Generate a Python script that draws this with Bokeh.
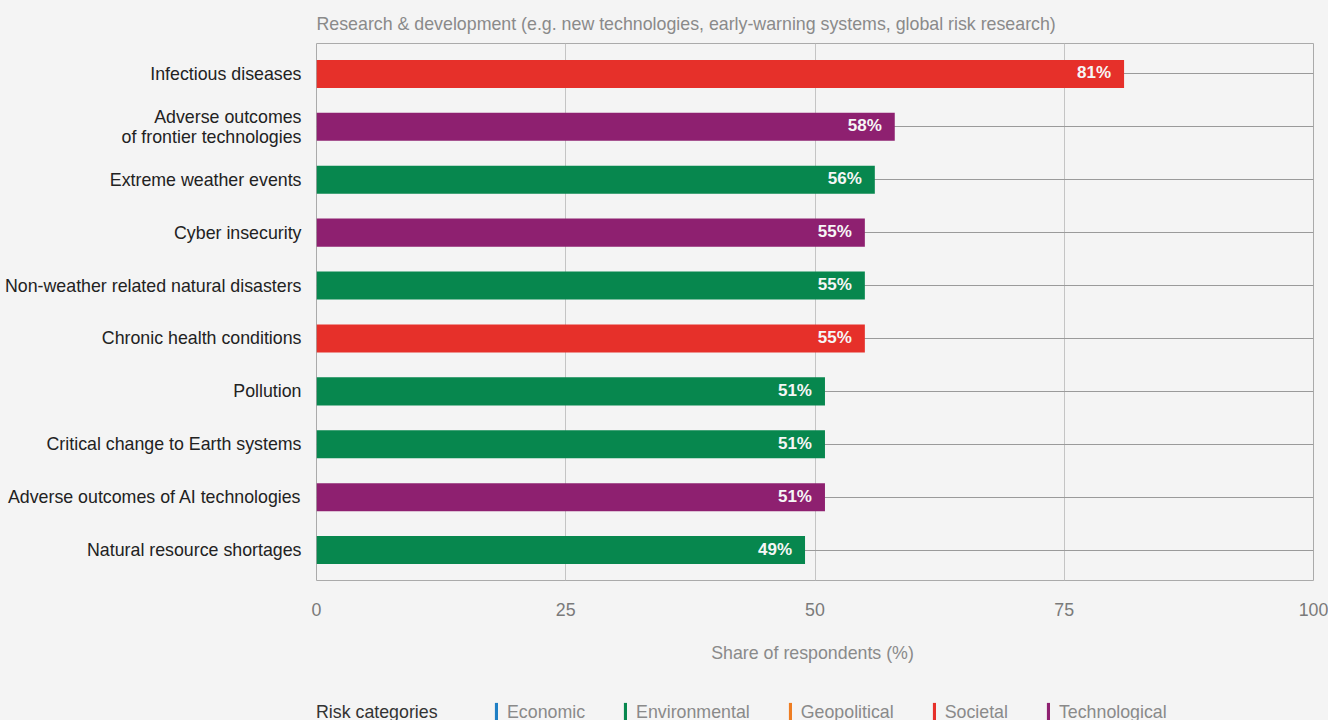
from bokeh.plotting import figure
from bokeh.models import (ColumnDataSource, FactorRange, Range1d, Legend, LegendItem, FixedTicker)
from bokeh.transform import factor_cmap
from bokeh.layouts import column
from bokeh.core.properties import value
from bokeh.embed import file_html
from bokeh.resources import INLINE

risks = [
    "Infectious diseases",
    "Adverse outcomes\nof frontier technologies",
    "Extreme weather events",
    "Cyber insecurity",
    "Non-weather related natural disasters",
    "Chronic health conditions",
    "Pollution",
    "Critical change to Earth systems",
    "Adverse outcomes of AI technologies",
    "Natural resource shortages",
]
shares = [81, 58, 56, 55, 55, 55, 51, 51, 51, 49]
groups = ["Societal", "Technological", "Environmental", "Technological", "Environmental",
          "Societal", "Environmental", "Environmental", "Technological", "Environmental"]

categories = ["Economic", "Environmental", "Geopolitical", "Societal", "Technological"]
cat_colors = ["#1f7fc4", "#07874e", "#ee7d22", "#e6302a", "#8e2070"]
x_ticks = [0, 25, 50, 75, 100]

FONT = "Liberation Sans"
FS = "17.8px"
BG = "#f4f4f4"

p = figure(
    width=1328, height=690,
    y_range=FactorRange(factors=list(reversed(risks)), range_padding=0.015),
    x_range=Range1d(0, 100),
    output_backend="svg", toolbar_location=None,
    min_border_left=316, min_border_right=15, min_border_top=43, min_border_bottom=110,
    background_fill_color=BG, border_fill_color=BG,
    outline_line_color="#aaaaaa", outline_line_width=1,
)

p.title.text = "Research & development (e.g. new technologies, early-warning systems, global risk research)"
p.title.align = "left"
p.title.text_color = "#8a8a8a"
p.title.text_font = FONT
p.title.text_font_size = FS
p.title.text_font_style = "normal"
p.title.standoff = 20

p.xgrid.ticker = FixedTicker(ticks=x_ticks)
p.xgrid.grid_line_color = "#c4c4c4"
p.ygrid.grid_line_color = "#9a9a9a"

p.xaxis.ticker = FixedTicker(ticks=x_ticks)
p.xaxis.axis_line_color = None
p.xaxis.major_tick_line_color = None
p.xaxis.major_tick_out = 0
p.xaxis.minor_tick_line_color = None
p.xaxis.major_label_text_color = "#7a7a7a"
p.xaxis.major_label_text_font = FONT
p.xaxis.major_label_text_font_size = FS
p.xaxis.major_label_standoff = 22
p.xaxis.axis_label = "Share of respondents  (%)"
p.xaxis.axis_label_text_color = "#8a8a8a"
p.xaxis.axis_label_text_font = FONT
p.xaxis.axis_label_text_font_size = FS
p.xaxis.axis_label_text_font_style = "normal"
p.xaxis.axis_label_standoff = 24

p.yaxis.axis_line_color = None
p.yaxis.major_tick_line_color = None
p.yaxis.major_tick_out = 0
p.yaxis.major_label_text_color = "#222222"
p.yaxis.major_label_text_font = FONT
p.yaxis.major_label_text_font_size = FS
p.yaxis.major_label_text_line_height = 1.0
p.yaxis.major_label_standoff = 15

src = ColumnDataSource(dict(
    y=risks, right=shares, group=groups, t=[f"{v}%" for v in shares],
))

p.hbar(y="y", right="right", left=0, height=0.53, source=src,
       fill_color=factor_cmap("group", palette=cat_colors, factors=categories), line_color=None)

p.text(x="right", y="y", text="t", source=src, text_align="right", text_baseline="middle",
       x_offset=-13, y_offset=-1, text_color="#f6f6f6", text_font=value(FONT), text_font_size="17px",
       text_font_style="bold")

# ---- legend strip below the chart ----
leg = figure(
    width=1328, height=30, x_range=Range1d(0, 1), y_range=Range1d(0, 1),
    output_backend="svg", toolbar_location=None,
    x_axis_location=None, y_axis_location=None,
    min_border_left=316, min_border_right=15, min_border_top=0, min_border_bottom=0,
    background_fill_color=BG, border_fill_color=BG, outline_line_color=None,
)
leg.xgrid.visible = False
leg.ygrid.visible = False

leg_src = ColumnDataSource(dict(category=categories, color=cat_colors))
# zero-size proxy glyph: only used to draw the legend swatches
proxy = leg.vbar(x=0, top=0, bottom=0, width=0, source=leg_src,
                 fill_color="color", line_color=None)

head = Legend(items=[LegendItem(label="Risk categories", renderers=[proxy], index=0)],
              orientation="horizontal", location=(0, -4),
              glyph_width=0, glyph_height=24, label_height=24, label_standoff=0,
              padding=0, margin=0, background_fill_alpha=0, border_line_color=None,
              label_text_color="#333333", label_text_font=FONT, label_text_font_size=FS)
leg.add_layout(head, "center")

cat_legend = Legend(
    items=[LegendItem(label=c, renderers=[proxy], index=i) for i, c in enumerate(categories)],
    orientation="horizontal", location=(178, -4),
    glyph_width=4, glyph_height=24, label_height=24, label_standoff=9,
    spacing=38, padding=0, margin=0,
    background_fill_alpha=0, border_line_color=None,
    label_text_color="#8a8a8a", label_text_font=FONT, label_text_font_size=FS)
leg.add_layout(cat_legend, "center")

layout = column(p, leg, spacing=0)

html = file_html(layout, INLINE)
html = html.replace("<head>", "<head><style>html,body{margin:0;padding:0;background:#f4f4f4;overflow:hidden;}</style>", 1)
open("out.html", "w").write(html)
